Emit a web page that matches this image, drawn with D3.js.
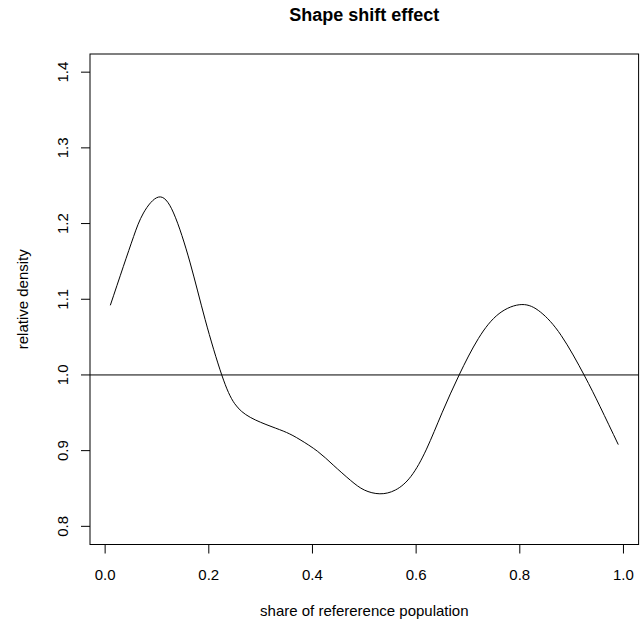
<!DOCTYPE html>
<html>
<head>
<meta charset="utf-8">
<script src="https://cdn.jsdelivr.net/npm/d3@7"></script>
<style>
  body { margin: 0; background: #fff; }
  svg text { font-family: "Liberation Sans", Arial, Helvetica, sans-serif; fill: #000; }
</style>
</head>
<body>
<svg id="chart" width="642" height="626"></svg>
<script>
'use strict';

// relative density curve
const share = [0.01, 0.035, 0.055, 0.074, 0.103, 0.132, 0.164, 0.193, 0.225, 0.25, 0.28, 0.32, 0.35, 0.376,
	0.41, 0.44, 0.473, 0.50, 0.53, 0.56, 0.59, 0.62, 0.65, 0.683, 0.72, 0.76, 0.804, 0.84, 0.88, 0.924, 0.955, 0.99];
const density = [1.092, 1.143, 1.183, 1.214, 1.235, 1.214, 1.148, 1.073, 1.0, 0.962, 0.944, 0.932, 0.924, 0.9145,
	0.899, 0.881, 0.861, 0.848, 0.843, 0.848, 0.866, 0.902, 0.950, 1.0, 1.048, 1.081, 1.093, 1.083, 1.052, 1.0, 0.958, 0.908];
const xTicks = [0.0, 0.2, 0.4, 0.6, 0.8, 1.0];
const yTicks = [0.8, 0.9, 1.0, 1.1, 1.2, 1.3, 1.4];
const refLine = 1.0;

(function () {
	const svg = d3.select("#chart");
	const box = { left: 90, right: 638.6, top: 54, bottom: 544.5 };

	// R style 4% extension of ranges
	const xr = d3.extent(share), xpad = (xr[1] - xr[0]) * 0.04;
	const yr = [0.8, 1.4], ypad = (yr[1] - yr[0]) * 0.04;

	const x = d3.scaleLinear().domain([xr[0] - xpad, xr[1] + xpad]).range([box.left, box.right]);
	const y = d3.scaleLinear().domain([yr[0] - ypad, yr[1] + ypad]).range([box.bottom, box.top]);

	const pts = share.map((s, i) => [s, density[i]]);

	// title
	svg.append("text")
		.attr("x", (box.left + box.right) / 2)
		.attr("y", 21)
		.attr("text-anchor", "middle")
		.style("font-size", "18px")
		.style("font-weight", "bold")
		.text("Shape shift effect");

	// x axis
	const xAxis = svg.append("g").attr("transform", `translate(0, ${box.bottom})`);
	xAxis.selectAll("line").data(xTicks).enter().append("line")
		.attr("x1", d => x(d)).attr("x2", d => x(d))
		.attr("y1", 0).attr("y2", 9)
		.attr("stroke", "#000");
	xAxis.selectAll("text").data(xTicks).enter().append("text")
		.attr("x", d => x(d))
		.attr("y", 35.5)
		.attr("text-anchor", "middle")
		.style("font-size", "15px")
		.text(d => d.toFixed(1));

	// y axis
	const yAxis = svg.append("g").attr("transform", `translate(${box.left}, 0)`);
	yAxis.selectAll("line").data(yTicks).enter().append("line")
		.attr("x1", 0).attr("x2", -9)
		.attr("y1", d => y(d)).attr("y2", d => y(d))
		.attr("stroke", "#000");
	yAxis.selectAll("text").data(yTicks).enter().append("text")
		.attr("transform", d => `translate(-22, ${y(d)}) rotate(-90)`)
		.attr("text-anchor", "middle")
		.style("font-size", "15px")
		.text(d => d.toFixed(1));

	// axis titles
	svg.append("text")
		.attr("x", (box.left + box.right) / 2)
		.attr("y", 616)
		.attr("text-anchor", "middle")
		.style("font-size", "15px")
		.text("share of refererence population");

	svg.append("text")
		.attr("transform", `translate(28, ${(box.top + box.bottom) / 2}) rotate(-90)`)
		.attr("text-anchor", "middle")
		.style("font-size", "15px")
		.text("relative density");

	// reference line
	svg.append("line")
		.attr("x1", box.left).attr("x2", box.right)
		.attr("y1", y(refLine)).attr("y2", y(refLine))
		.attr("stroke", "#000");

	// curve
	const line = d3.line()
		.x(d => x(d[0]))
		.y(d => y(d[1]))
		.curve(d3.curveNatural);

	svg.append("path")
		.datum(pts)
		.attr("d", line)
		.attr("fill", "none")
		.attr("stroke", "#000")
		.attr("stroke-width", 1);

	// plot box
	svg.append("rect")
		.attr("x", box.left).attr("y", box.top)
		.attr("width", box.right - box.left)
		.attr("height", box.bottom - box.top)
		.attr("fill", "none")
		.attr("stroke", "#000");
})();
</script>
</body>
</html>
